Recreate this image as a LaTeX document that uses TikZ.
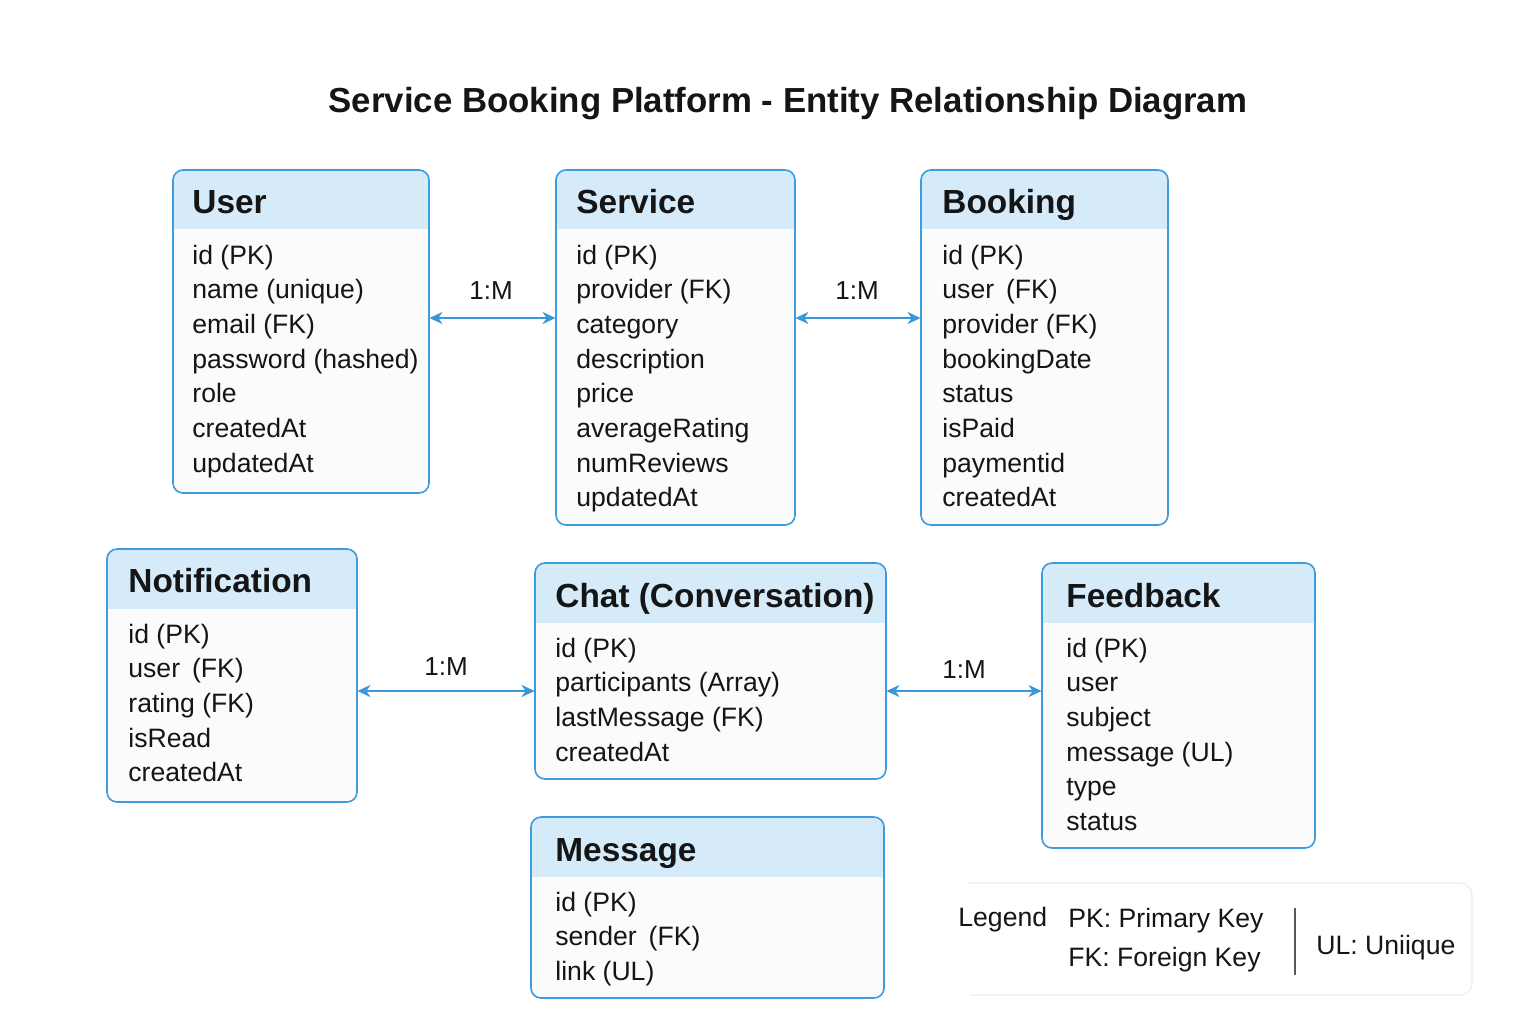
\documentclass[tikz,border=0pt]{standalone}
\usepackage{fontspec}
\setmainfont{Liberation Sans}
\usetikzlibrary{arrows.meta,fit,calc}
\definecolor{boxblue}{HTML}{3D9BDE}
\definecolor{headfill}{HTML}{D5EBFA}
\definecolor{bodyfill}{HTML}{FBFBFC}
\definecolor{arrowblue}{HTML}{3A98D8}
\definecolor{ink}{HTML}{151515}
\tikzset{
  boxline/.style={draw=boxblue, line width=0.8pt, rounded corners=5pt},
  headtext/.style={font=\fontsize{16.7pt}{20pt}\selectfont\bfseries, text=ink, inner sep=0pt, anchor=base west},
  rowtext/.style={font=\fontsize{13.3pt}{16pt}\selectfont, text=ink, inner sep=0pt, anchor=base west},
  rellabel/.style={font=\fontsize{13pt}{16pt}\selectfont, text=ink, inner sep=0pt},
  rel/.style={draw=arrowblue, line width=1pt, {Stealth[length=6.5pt,width=6pt,inset=2pt]}-{Stealth[length=6.5pt,width=6pt,inset=2pt]}},
}
\newcommand\entitybox[6]{%
  \coordinate (#1-nw) at (#2,#3);
  \coordinate (#1-se) at (#4,#5);
  \node[fit=(#1-nw)(#1-se), inner sep=0pt] (#1) {};
  \begin{scope}
    \clip[rounded corners=5pt] (#2,#3) rectangle (#4,#5);
    \fill[bodyfill] (#2,#3) rectangle (#4,#5);
    \fill[headfill] (#2,#3) rectangle (#4,#6);
  \end{scope}
  \draw[boxline] (#2,#3) rectangle (#4,#5);
}
\newcommand\entityrows[4]{%
  \foreach \t [count=\i] in {#4} {
    \node[rowtext] (#1-r\i) at (#2,{#3+9+(\i-1)*34.7}) {\t};
  }
}
\begin{document}
\begin{tikzpicture}[x=0.5pt,y=-0.5pt]
\useasboundingbox[fill=white] (0,0) rectangle (1536,1024);

\node[font=\fontsize{17.4pt}{20pt}\selectfont\bfseries, text=ink, inner sep=0pt] (title) at (788,104) {Service Booking Platform - Entity Relationship Diagram};

% User
\entitybox{user}{173}{170}{429}{493}{229}
\node[headtext] (user-t) at (192,213) {User};
\entityrows{user}{192}{255}{id (PK),name (unique),email (FK),password (hashed),role,createdAt,updatedAt}

% Service
\entitybox{service}{556}{170}{795}{525}{229}
\node[headtext] (service-t) at (576,213) {Service};
\entityrows{service}{576}{255}{id (PK),provider (FK),category,description,price,averageRating,numReviews,updatedAt}

% Booking
\entitybox{booking}{921}{170}{1168}{525}{229}
\node[headtext] (booking-t) at (942,213) {Booking};
\entityrows{booking}{942}{255}{id (PK),user\hspace{0.45em}(FK),provider (FK),bookingDate,status,isPaid,paymentid,createdAt}

% Notification
\entitybox{notif}{107}{549}{357}{802}{609}
\node[headtext] (notif-t) at (128,592) {Notification};
\entityrows{notif}{128}{634}{id (PK),user\hspace{0.45em}(FK),rating (FK),isRead,createdAt}

% Chat
\entitybox{chat}{535}{563}{886}{779}{623}
\node[headtext] (chat-t) at (555,607) {Chat (Conversation)};
\entityrows{chat}{555}{648}{id (PK),participants (Array),lastMessage (FK),createdAt}

% Feedback
\entitybox{feedback}{1042}{563}{1315}{848}{623}
\node[headtext] (feedback-t) at (1066,607) {Feedback};
\entityrows{feedback}{1066}{648}{id (PK),user,subject,message (UL),type,status}

% Message
\entitybox{message}{531}{817}{884}{998}{877}
\node[headtext] (message-t) at (555,861) {Message};
\entityrows{message}{555}{902}{id (PK),sender\hspace{0.45em}(FK),link (UL)}

% Relations
\coordinate (ra) at (0,318);
\coordinate (rb) at (0,691);
\draw[rel] (user.east |- ra) -- (service.west |- ra);
\node[rellabel] (l1) at (491,291) {1:M};
\draw[rel] (service.east |- ra) -- (booking.west |- ra);
\node[rellabel] (l2) at (857,291) {1:M};
\draw[rel] (notif.east |- rb) -- (chat.west |- rb);
\node[rellabel] (l3) at (446,667) {1:M};
\draw[rel] (chat.east |- rb) -- (feedback.west |- rb);
\node[rellabel] (l4) at (964,670) {1:M};

% Legend
\coordinate (lg-a) at (967,883);
\coordinate (lg-b) at (1472,883);
\coordinate (lg-c) at (1472,995);
\coordinate (lg-d) at (970,995);
\node[fit=(lg-a)(lg-c), inner sep=0pt] (legend) {};
\draw[draw=black!7, line width=0.6pt, rounded corners=6pt] (lg-a) -- (lg-b) -- (lg-c) -- (lg-d);
\node[rowtext] (lg) at (958,926) {Legend};
\node[rowtext] (lpk) at (1068,927) {PK: Primary Key};
\node[rowtext] (lfk) at (1068,966) {FK: Foreign Key};
\coordinate (dv1) at (1295,908);
\coordinate (dv2) at (1295,975);
\draw[draw=black!65, line width=0.75pt] (dv1) -- (dv2);
\node[rowtext] (lul) at (1316,954) {UL: Uniique};
\end{tikzpicture}
\end{document}
